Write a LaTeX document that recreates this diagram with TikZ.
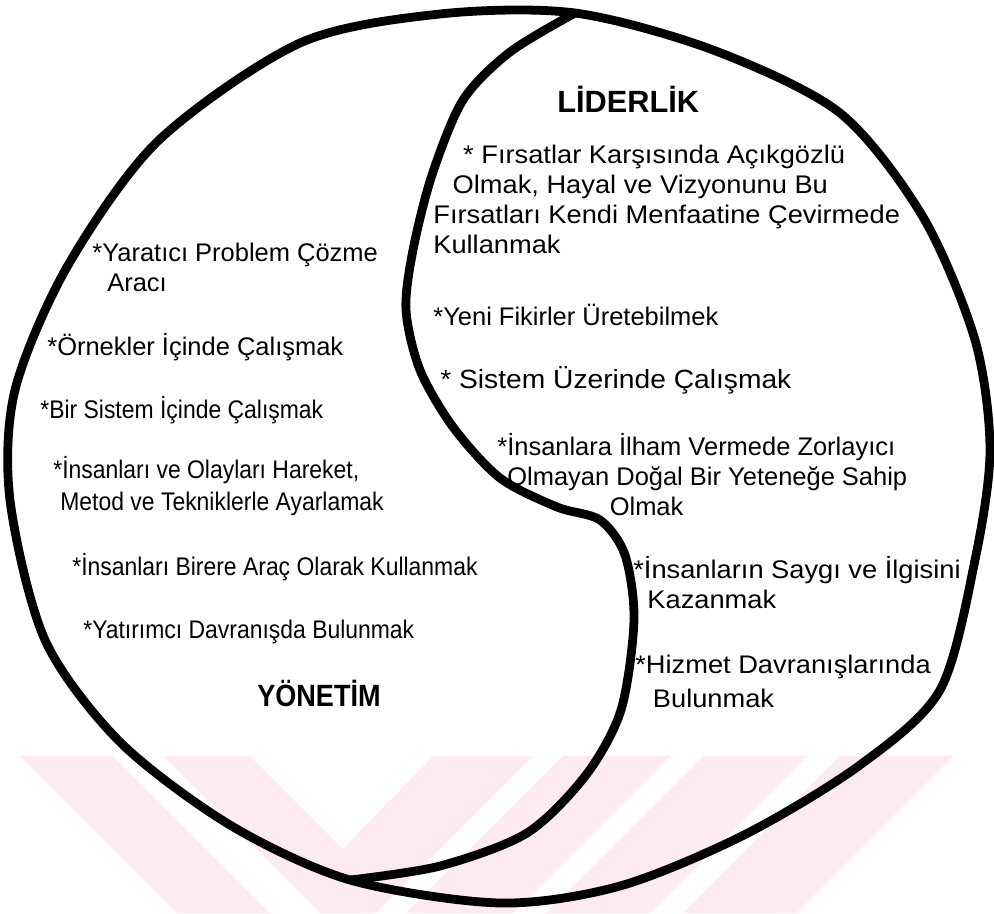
\documentclass[tikz,border=0pt]{standalone}
\usepackage{fontspec}
\setmainfont{Liberation Sans}
\newfontfamily\narrowfont{Liberation Sans}[FakeStretch=0.9]
\newfontfamily\widefont{Liberation Sans}[FakeStretch=1.07]
\newfontfamily\titlefont{Liberation Sans}[FakeStretch=0.88]
\definecolor{wmpink}{RGB}{253,235,239}
\usetikzlibrary{positioning}

\begin{document}
\begin{tikzpicture}[
  x=0.02cm, y=-0.02cm,
  item/.style={anchor=base west, inner sep=0pt, align=left,
    font=\fontsize{14.5}{17}\selectfont},
  narrow/.style={font=\narrowfont\fontsize{14.5}{17}\selectfont},
  wide/.style={font=\widefont\fontsize{#1}{17}\selectfont},
  wide/.default=14.5,
  title/.style={anchor=base west, inner sep=0pt,
    font=\fontsize{17.5}{20}\selectfont\bfseries},
  border/.style={line width=5pt, line cap=round, line join=round},
  wmband/.style={fill=wmpink, draw=none}
]
  \useasboundingbox (0,0) rectangle (994,913);

  % faint watermark bands
  \fill[wmband] (20,756) -- (113,756) -- (270,913) -- (177,913) -- cycle;
  \fill[wmband] (163,756) -- (250,756) -- (343,849) -- (433,756) -- (533,756)
    -- (376,913) -- (320,913) -- cycle;
  \fill[wmband] (563,756) -- (670,756) -- (513,913) -- (406,913) -- cycle;
  \fill[wmband] (703,756) -- (807,756) -- (650,913) -- (546,913) -- cycle;
  \fill[wmband] (840,756) -- (953,756) -- (796,913) -- (683,913) -- cycle;

  \coordinate (top) at (575,13);
  \coordinate (cross) at (350,880);

  \draw[border] plot[smooth cycle] coordinates {(top) (713,50) (840,113)
    (923,217) (975,340) (990,450) (975,560) (940,690) (860,765) (744,835)
    (620,886) (500,903) (cross) (230,825) (120,742) (45,640) (10,500)
    (15,390) (67,267) (158,141) (300,43) (440,14)};
  \draw[border] plot[smooth] coordinates {(top) (510,52) (463,100) (432,175)
    (413,250) (406,310) (420,370) (453,427) (500,478) (557,507) (600,520)
    (625,555) (634,620) (621,710) (586,775) (527,833) (440,866) (cross)};

  \node[title, font=\titlefont\fontsize{17.5}{20}\selectfont\bfseries] (yonetim) at (257,706) {YÖNETİM};
  \node[item] (yaratici) at (92,291) {*Yaratıcı Problem Çözme\\\hspace*{8.5pt}Aracı};
  \node[item] (ornekler) at (47,355) {*Örnekler İçinde Çalışmak};
  \node[item, narrow] (sistemic) at (40,418) {*Bir Sistem İçinde Çalışmak};
  \node[item, narrow] (hareket) at (53,510) {*İnsanları ve Olayları Hareket,\\[1pt]\hspace*{4pt}Metod ve Tekniklerle Ayarlamak};
  \node[item, narrow] (arac) at (72,575) {*İnsanları Birere Araç Olarak Kullanmak};
  \node[item, narrow] (yatirimci) at (83,638) {*Yatırımcı Davranışda Bulunmak};

  \node[title] (liderlik) at (557,112) {LİDERLİK};
  \node[item, wide] (firsat) at (433,253) {\hspace*{17pt}* Fırsatlar Karşısında Açıkgözlü\\\hspace*{11pt}Olmak, Hayal ve Vizyonunu Bu\\Fırsatları Kendi Menfaatine Çevirmede\\Kullanmak};
  \node[item] (fikir) at (433,325) {*Yeni Fikirler Üretebilmek};
  \node[item, wide=15] (sistemuz) at (440,388) {* Sistem Üzerinde Çalışmak};
  \node[item] (ilham) at (497,515) {*İnsanlara İlham Vermede Zorlayıcı\\\hspace*{5.7pt}Olmayan Doğal Bir Yeteneğe Sahip\\\hspace*{64pt}Olmak};
  \node[item, wide] (saygi) at (633,608) {*İnsanların Saygı ve İlgisini\\\hspace*{8pt}Kazanmak};
  \node[item, wide] (hizmet) at (635,707) {*Hizmet Davranışlarında\\[2.3pt]\hspace*{10pt}Bulunmak};
\end{tikzpicture}
\end{document}
